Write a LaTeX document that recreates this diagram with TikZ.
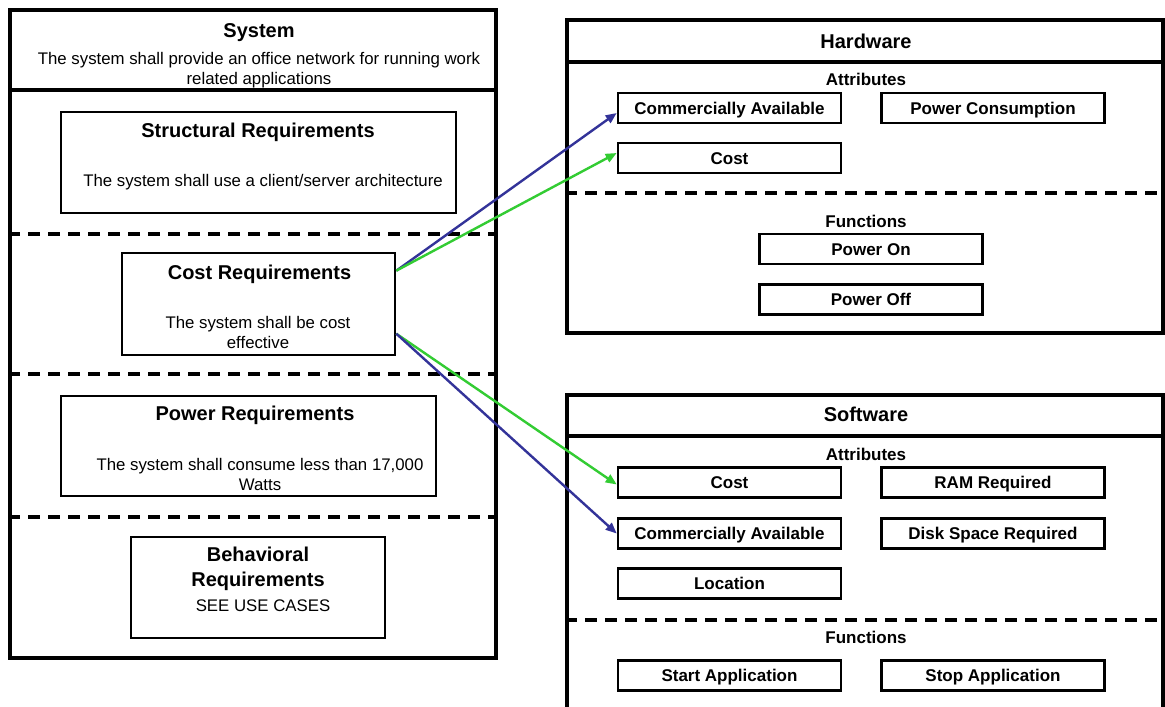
\documentclass[tikz,border=0pt]{standalone}
\usepackage{fontspec}
\setmainfont{Liberation Sans}
\usetikzlibrary{arrows.meta,calc}
\definecolor{linkblue}{HTML}{333399}
\definecolor{linkgreen}{HTML}{33CC33}
\tikzset{
  outerbox/.style={draw=black,line width=3.2pt,fill=none,inner sep=0pt},
  innerbox/.style={draw=black,line width=2.6pt,fill=white,inner sep=0pt,font=\bfseries\fontsize{17}{20}\selectfont},
  smallbox/.style={innerbox,minimum width=223pt,minimum height=30pt,text height=12pt,text depth=0pt},
  divider/.style={line width=3.2pt},
  dashdiv/.style={line width=3.2pt,dash pattern=on 12pt off 8pt},
  titletext/.style={font=\bfseries\fontsize{20}{25}\selectfont,inner sep=0pt},
  sectext/.style={font=\bfseries\fontsize{17}{20}\selectfont,inner sep=0pt},
  bodytext/.style={font=\fontsize{16.8}{20}\selectfont,inner sep=0pt,align=center},
  bluelink/.style={draw=linkblue,line width=2.4pt,-{Triangle[length=11pt,width=9pt]}},
  greenlink/.style={draw=linkgreen,line width=2.4pt,-{Triangle[length=11pt,width=9pt]}}
}
\begin{document}
\begin{tikzpicture}[x=1pt,y=-1pt]
\useasboundingbox (0,0) rectangle (1165,707);
\clip (0,0) rectangle (1165,707);
\fill[white] (0,0) rectangle (1165,707);

% ---------------- System ----------------
\node[outerbox,minimum width=486pt,minimum height=648pt] (sys) at (253,334) {};
\draw[divider] (sys.west |- 0,90) -- (sys.east |- 0,90);
\draw[dashdiv] (sys.west |- 0,234) -- (sys.east |- 0,234);
\draw[dashdiv] (sys.west |- 0,374) -- (sys.east |- 0,374);
\draw[dashdiv] (sys.west |- 0,517) -- (sys.east |- 0,517);
\node[titletext] (systitle) at (259,33) {System};
\node[bodytext] (sysdesc) at (259,70.5) {The system shall provide an office network for running work\\related applications};

\node[innerbox,minimum width=395pt,minimum height=101pt] (structreq) at (258.5,162.5) {};
\node[titletext] (structtitle) at (258,132) {Structural Requirements};
\node[bodytext] (structbody) at (263,182) {The system shall use a client/server architecture};

\node[innerbox,minimum width=273pt,minimum height=102pt] (costreq) at (258.5,304) {};
\node[titletext] (costtitle) at (259.5,274) {Cost Requirements};
\node[bodytext] (costbody) at (258,332.5) {The system shall be cost\\effective};

\node[innerbox,minimum width=375pt,minimum height=100pt] (powerreq) at (248.5,446) {};
\node[titletext] (powertitle) at (255,415) {Power Requirements};
\node[bodytext] (powerbody) at (260,474) {The system shall consume less than 17,000\\Watts};

\node[innerbox,minimum width=254pt,minimum height=101pt] (behreq) at (258,587.5) {};
\node[titletext,align=center] (behtitle) at (258,569) {Behavioral\\Requirements};
\node[bodytext] (behbody) at (263,606) {SEE USE CASES};

% ---------------- Hardware ----------------
\node[outerbox,minimum width=596pt,minimum height=313pt] (hw) at (865,176.5) {};
\draw[divider] (hw.west |- 0,62) -- (hw.east |- 0,62);
\draw[dashdiv] (hw.west |- 0,193) -- (hw.east |- 0,193);
\node[titletext] (hwtitle) at (866,41) {Hardware};
\node[sectext] (hwattr) at (866,79) {Attributes};
\node[sectext] (hwfunc) at (866,221) {Functions};
\node[smallbox] (hwca) at (729.5,108) {Commercially Available};
\node[smallbox] (hwpc) at (993,108) {Power Consumption};
\node[smallbox] (hwcost) at (729.5,158) {Cost};
\node[smallbox] (hwon) at (871,249) {Power On};
\node[smallbox] (hwoff) at (871,299.5) {Power Off};

% ---------------- Software ----------------
\node[outerbox,minimum width=596pt,minimum height=365pt] (sw) at (865,577.5) {};
\draw[divider] (sw.west |- 0,436) -- (sw.east |- 0,436);
\draw[dashdiv] (sw.west |- 0,620) -- (sw.east |- 0,620);
\node[titletext] (swtitle) at (866,414) {Software};
\node[sectext] (swattr) at (866,454) {Attributes};
\node[sectext] (swfunc) at (866,637) {Functions};
\node[smallbox] (swcost) at (729.5,482.5) {Cost};
\node[smallbox] (swram) at (993,482.5) {RAM Required};
\node[smallbox] (swca) at (729.5,533.5) {Commercially Available};
\node[smallbox] (swdisk) at (993,533.5) {Disk Space Required};
\node[smallbox] (swloc) at (729.5,583.5) {Location};
\node[smallbox] (swstart) at (729.5,675.5) {Start Application};
\node[smallbox] (swstop) at (993,675.5) {Stop Application};

% ---------------- Links ----------------
\coordinate (cu) at ($(costreq.north east)+(0,19)$);
\coordinate (cl) at ($(costreq.north east)+(0,82)$);
\draw[bluelink] (cu) -- ($(hwca.west)+(0,5)$);
\draw[greenlink] (cu) -- ($(hwcost.west)+(0,-5)$);
\draw[greenlink] (cl) -- ($(swcost.west)+(0,2)$);
\draw[bluelink] (cl) -- (swca.west);
\end{tikzpicture}
\end{document}
